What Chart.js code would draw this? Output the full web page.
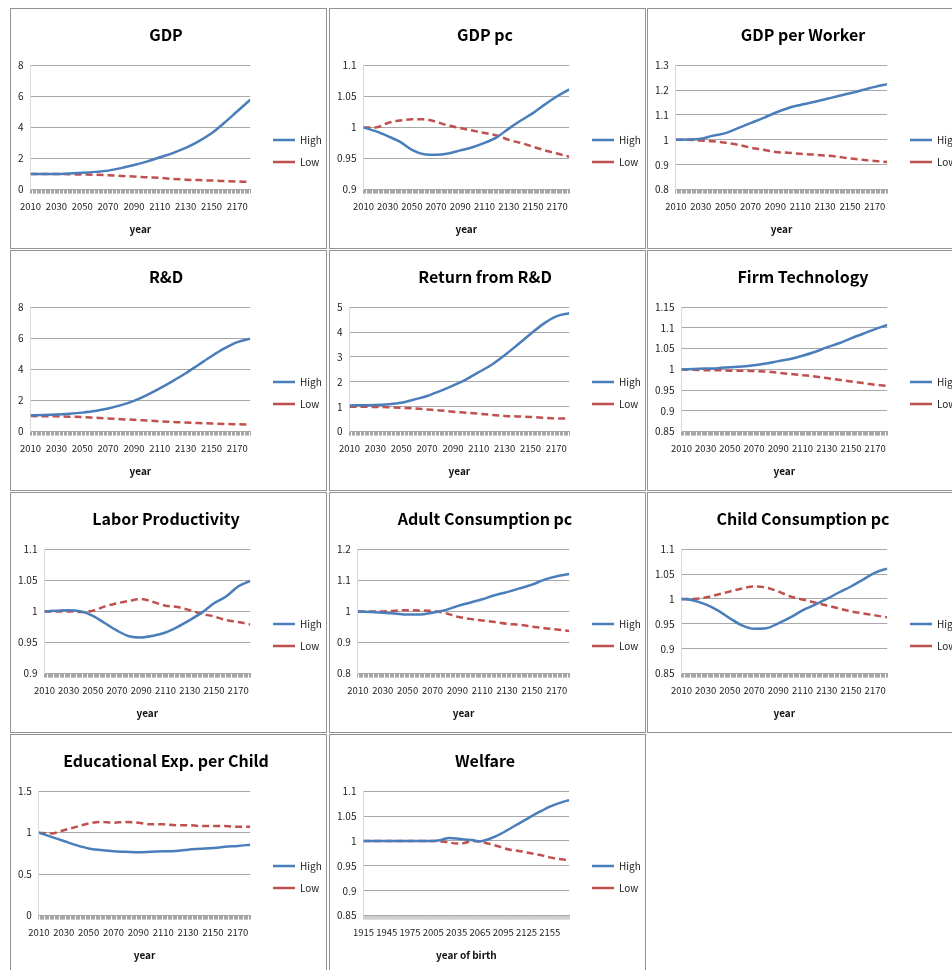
<!DOCTYPE html>
<html>
<head>
<meta charset="utf-8">
<title>Simulation results: High vs Low scenario</title>
<script src="https://cdn.jsdelivr.net/npm/chart.js@4.4.1/dist/chart.umd.min.js"></script>
<style>
  html, body { margin: 0; padding: 0; background: #fff; }
  body { width: 952px; height: 970px; overflow: hidden; position: relative; }
  .panel { position: absolute; width: 315px; height: 239px; border: 1px solid #939393; background: #fff; }
  .panel canvas { display: block; }
</style>
</head>
<body>
<div id="board"></div>
<script>
// ---- data (index = 1 at 2010) ----
const YEARS = [2010, 2020, 2030, 2040, 2050, 2060, 2070, 2080, 2090, 2100, 2110, 2120, 2130, 2140, 2150, 2160, 2170, 2180];

const gdpHigh = [1.0, 1.0, 1.0, 1.04, 1.08, 1.14, 1.22, 1.38, 1.58, 1.8, 2.08, 2.35, 2.68, 3.1, 3.62, 4.3, 5.04, 5.78];
const gdpLow  = [1.0, 1.0, 1.0, 0.99, 0.97, 0.95, 0.92, 0.88, 0.84, 0.79, 0.75, 0.69, 0.64, 0.61, 0.58, 0.55, 0.52, 0.49];

const gdpPcHigh = [1.0, 0.994, 0.986, 0.977, 0.964, 0.957, 0.956, 0.958, 0.963, 0.968, 0.975, 0.984, 0.998, 1.011, 1.023, 1.037, 1.05, 1.061];
const gdpPcLow  = [1.0, 1.0, 1.007, 1.011, 1.013, 1.013, 1.009, 1.003, 0.999, 0.995, 0.991, 0.987, 0.98, 0.975, 0.969, 0.963, 0.958, 0.953];

const gdpWorkerHigh = [1.0, 1.001, 1.004, 1.017, 1.027, 1.047, 1.067, 1.087, 1.109, 1.127, 1.14, 1.151, 1.163, 1.175, 1.187, 1.2, 1.213, 1.224];
const gdpWorkerLow  = [1.0, 1.0, 0.997, 0.994, 0.988, 0.98, 0.969, 0.96, 0.951, 0.948, 0.944, 0.941, 0.937, 0.932, 0.925, 0.92, 0.915, 0.911];

const rdHigh = [1.05, 1.07, 1.1, 1.15, 1.22, 1.32, 1.48, 1.7, 1.98, 2.35, 2.78, 3.25, 3.75, 4.3, 4.85, 5.35, 5.75, 5.98];
const rdLow  = [1.0, 0.99, 0.98, 0.96, 0.93, 0.89, 0.85, 0.8, 0.76, 0.71, 0.66, 0.62, 0.58, 0.55, 0.52, 0.49, 0.47, 0.45];

const returnHigh = [1.05, 1.06, 1.07, 1.1, 1.16, 1.29, 1.43, 1.63, 1.85, 2.09, 2.39, 2.69, 3.07, 3.49, 3.92, 4.33, 4.63, 4.76];
const returnLow  = [1.0, 1.0, 0.99, 0.98, 0.96, 0.93, 0.89, 0.85, 0.8, 0.76, 0.72, 0.67, 0.63, 0.61, 0.59, 0.56, 0.53, 0.53];

const techHigh = [1.0, 1.001, 1.002, 1.003, 1.005, 1.007, 1.01, 1.014, 1.02, 1.025, 1.033, 1.042, 1.053, 1.063, 1.075, 1.086, 1.097, 1.107];
const techLow  = [1.0, 0.999, 0.998, 0.998, 0.997, 0.997, 0.996, 0.995, 0.992, 0.989, 0.986, 0.983, 0.979, 0.975, 0.971, 0.967, 0.963, 0.96];

const laborHigh = [1.0, 1.001, 1.002, 1.0, 0.993, 0.981, 0.969, 0.96, 0.958, 0.961, 0.966, 0.975, 0.986, 0.998, 1.013, 1.024, 1.04, 1.049];
const laborLow  = [1.0, 1.0, 1.0, 0.999, 1.001, 1.008, 1.013, 1.017, 1.02, 1.015, 1.009, 1.007, 1.002, 0.996, 0.992, 0.986, 0.983, 0.979];

const adultHigh = [1.0, 0.998, 0.996, 0.993, 0.99, 0.99, 0.996, 1.004, 1.017, 1.028, 1.039, 1.052, 1.062, 1.074, 1.086, 1.102, 1.113, 1.12];
const adultLow  = [1.0, 1.0, 1.0, 1.002, 1.004, 1.003, 1.001, 0.995, 0.983, 0.976, 0.971, 0.966, 0.96, 0.957, 0.951, 0.946, 0.942, 0.937];

const childHigh = [1.0, 0.997, 0.989, 0.977, 0.961, 0.947, 0.94, 0.941, 0.951, 0.963, 0.977, 0.988, 1.0, 1.013, 1.025, 1.039, 1.053, 1.061];
const childLow  = [1.0, 1.0, 1.003, 1.009, 1.015, 1.021, 1.025, 1.023, 1.015, 1.005, 0.999, 0.993, 0.987, 0.981, 0.975, 0.971, 0.967, 0.963];

const eduHigh = [1.0, 0.95, 0.9, 0.85, 0.81, 0.79, 0.775, 0.77, 0.765, 0.77, 0.775, 0.78, 0.795, 0.805, 0.815, 0.83, 0.84, 0.855];
const eduLow  = [1.0, 0.99, 1.03, 1.07, 1.11, 1.13, 1.12, 1.13, 1.12, 1.1, 1.1, 1.09, 1.09, 1.08, 1.08, 1.08, 1.07, 1.07];

// welfare is indexed by year of birth
const BIRTH_YEARS = [1915, 1925, 1935, 1945, 1955, 1965, 1975, 1985, 1995, 2005, 2015, 2025, 2035, 2045, 2055, 2065, 2075, 2085, 2095, 2105, 2115, 2125, 2135, 2145, 2155, 2165, 2175, 2180];
const welfareHigh = [1, 1, 1, 1, 1, 1, 1, 1, 1, 1, 1.002, 1.006, 1.005, 1.003, 1.002, 0.999, 1.003, 1.009, 1.017, 1.026, 1.035, 1.044, 1.053, 1.061, 1.069, 1.075, 1.08, 1.082];
const welfareLow  = [1, 1, 1, 1, 1, 1, 1, 1, 1, 1, 0.999, 0.997, 0.995, 0.996, 1.0, 0.999, 0.995, 0.991, 0.986, 0.982, 0.98, 0.977, 0.974, 0.971, 0.967, 0.964, 0.962, 0.96];

const SERIES_NAMES = ['High', 'Low'];

// ---- layout of the panel grid ----
const COL_X = [10, 329, 647];
const ROW_Y = [8, 250, 492, 734];
const CANVAS_W = 315, CANVAS_H = 239;
const LEGEND_X = 262;   // start of the legend line sample inside a panel
const LEGEND_Y = 126;   // top of the first legend row inside a panel

const FONT = "'Noto Sans CJK KR', 'Noto Sans', sans-serif";
Chart.defaults.font.family = FONT;
Chart.defaults.color = '#222';

// Place the legend block at a fixed spot right of the plot
const legendPlacement = {
  id: 'legendPlacement',
  afterLayout(chart) {
    const lg = chart.legend;
    if (!lg) return;
    const pad = lg.options.labels.padding;
    const w = lg.width;
    lg.left = LEGEND_X - pad;
    lg.right = lg.left + w;
    lg.top = LEGEND_Y - pad;
    lg.bottom = lg.top + 80;
    lg.height = 80;
  }
};

function yearAxis(min, max, first, step, last, label, tickColor) {
  return {
    type: 'linear',
    min: min,
    max: max,
    border: { display: true, color: '#a6a6a6', width: 1 },
    grid: { drawOnChartArea: false, drawTicks: true, tickLength: 4, color: tickColor, lineWidth: 1 },
    ticks: {
      stepSize: 1,
      autoSkip: false,
      maxRotation: 0,
      minRotation: 0,
      padding: 7,
      color: '#222',
      font: { size: 9.5 },
      callback: function (v) {
        const y = Math.round(v);
        if (y >= first && y <= last && (y - first) % step === 0) return String(y);
        return '';
      }
    },
    title: { display: true, text: label, color: '#111', font: { size: 10, weight: 'bold' }, padding: { top: 4, bottom: 0 } }
  };
}

function valueAxis(min, max, step) {
  return {
    type: 'linear',
    min: min,
    max: max,
    border: { display: true, color: '#d9d9d9', width: 1 },
    grid: { drawTicks: false, color: '#a8a8a8', lineWidth: 1 },
    ticks: {
      stepSize: step,
      padding: 7,
      color: '#222',
      font: { size: 10 },
      callback: function (v) { return String(Math.round(v * 100) / 100); }
    }
  };
}

function pairs(xs, ys) { return xs.map((x, i) => ({ x: x, y: ys[i] })); }

function addPanel(col, row, title, xs, high, low, yMin, yMax, yStep, xAxis) {
  const div = document.createElement('div');
  div.className = 'panel';
  div.style.left = COL_X[col] + 'px';
  div.style.top = ROW_Y[row] + 'px';
  const cv = document.createElement('canvas');
  cv.width = CANVAS_W; cv.height = CANVAS_H;
  cv.style.width = CANVAS_W + 'px'; cv.style.height = CANVAS_H + 'px';
  div.appendChild(cv);
  document.getElementById('board').appendChild(div);

  new Chart(cv, {
    type: 'line',
    data: {
      datasets: [
        {
          label: SERIES_NAMES[0], data: pairs(xs, high),
          borderColor: '#4a7ebb', backgroundColor: '#4a7ebb', borderWidth: 2.5,
          pointRadius: 0, cubicInterpolationMode: 'monotone', fill: false
        },
        {
          label: SERIES_NAMES[1], data: pairs(xs, low),
          borderColor: '#c0504d', backgroundColor: '#c0504d', borderWidth: 2.5, borderDash: [7, 4],
          pointRadius: 0, cubicInterpolationMode: 'monotone', fill: false
        }
      ]
    },
    options: {
      responsive: false,
      animation: false,
      devicePixelRatio: 1,
      layout: { padding: { left: 0, right: 5, top: 0, bottom: 13 } },
      scales: { x: xAxis, y: valueAxis(yMin, yMax, yStep) },
      plugins: {
        title: {
          display: true, text: title, color: '#000',
          font: { size: 16, weight: 'bold' },
          padding: { top: 16, bottom: 21 }
        },
        legend: {
          position: 'right',
          align: 'start',
          labels: {
            usePointStyle: true, pointStyle: 'line', pointStyleWidth: 22,
            padding: 12, color: '#222', font: { size: 10 }
          }
        },
        tooltip: { enabled: false }
      }
    },
    plugins: [legendPlacement]
  });
}

const yearX = () => yearAxis(2010, 2180, 2010, 20, 2170, 'year', '#a6a6a6');

addPanel(0, 0, 'GDP', YEARS, gdpHigh, gdpLow, 0, 8, 2, yearX());
addPanel(1, 0, 'GDP pc', YEARS, gdpPcHigh, gdpPcLow, 0.9, 1.1, 0.05, yearX());
addPanel(2, 0, 'GDP per Worker', YEARS, gdpWorkerHigh, gdpWorkerLow, 0.8, 1.3, 0.1, yearX());
addPanel(0, 1, 'R&D', YEARS, rdHigh, rdLow, 0, 8, 2, yearX());
addPanel(1, 1, 'Return from R&D', YEARS, returnHigh, returnLow, 0, 5, 1, yearX());
addPanel(2, 1, 'Firm Technology', YEARS, techHigh, techLow, 0.85, 1.15, 0.05, yearX());
addPanel(0, 2, 'Labor Productivity', YEARS, laborHigh, laborLow, 0.9, 1.1, 0.05, yearX());
addPanel(1, 2, 'Adult Consumption pc', YEARS, adultHigh, adultLow, 0.8, 1.2, 0.1, yearX());
addPanel(2, 2, 'Child Consumption pc', YEARS, childHigh, childLow, 0.85, 1.1, 0.05, yearX());
addPanel(0, 3, 'Educational Exp. per Child', YEARS, eduHigh, eduLow, 0, 1.5, 0.5, yearX());
addPanel(1, 3, 'Welfare', BIRTH_YEARS, welfareHigh, welfareLow, 0.85, 1.1, 0.05,
  yearAxis(1915, 2180, 1915, 30, 2155, 'year of birth', '#cfcfcf'));
</script>
</body>
</html>
